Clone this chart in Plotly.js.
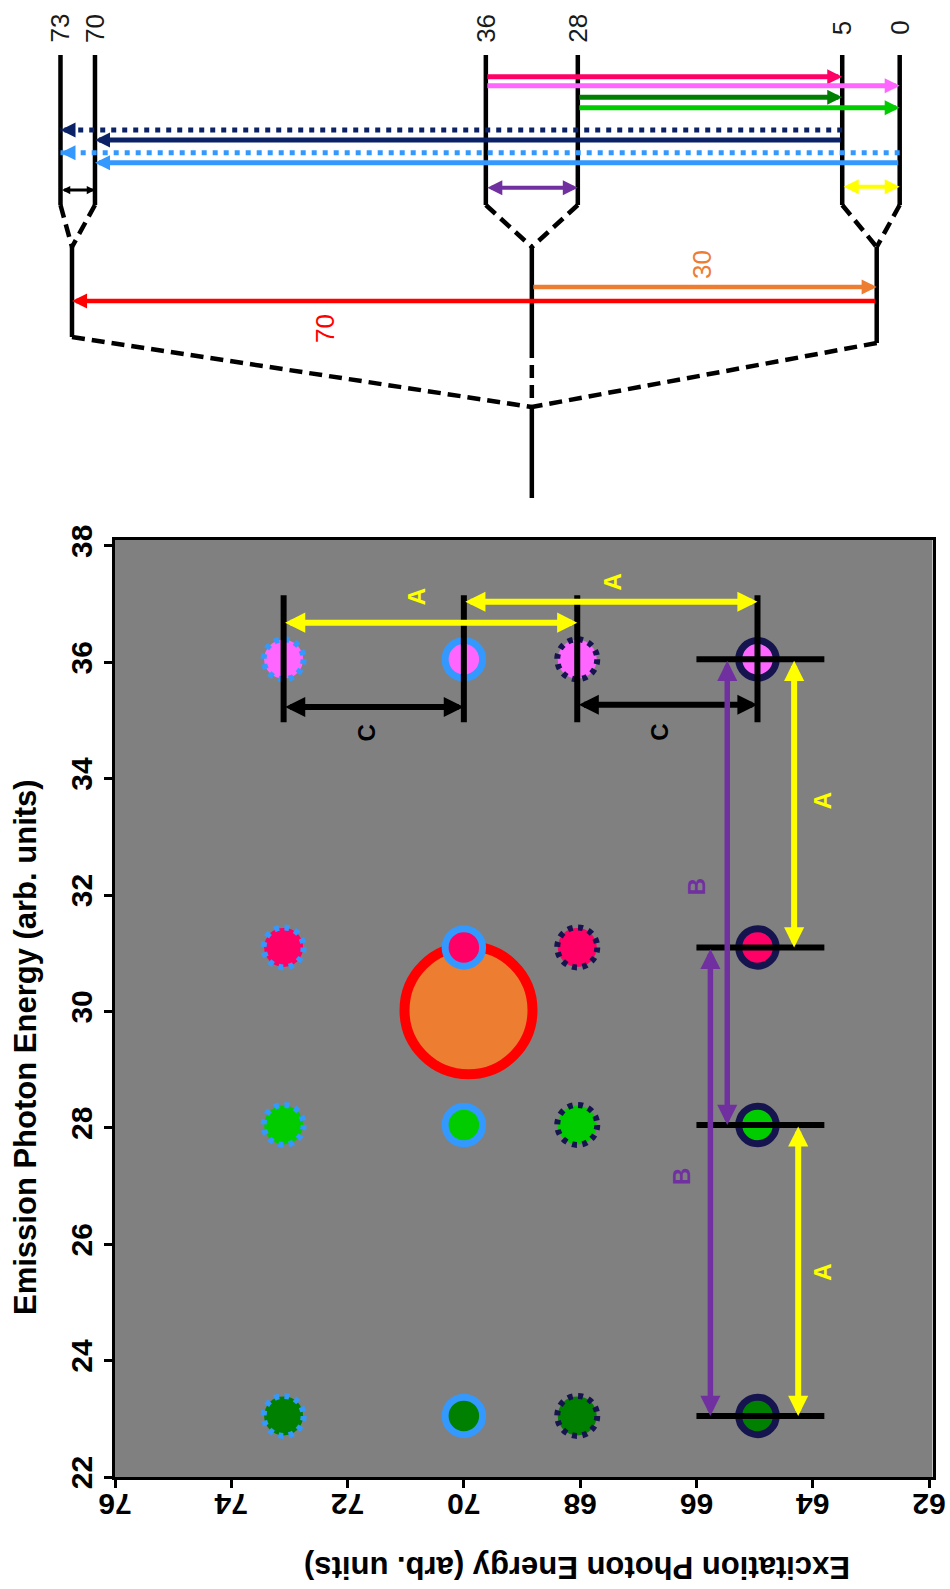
<!DOCTYPE html>
<html>
<head>
<meta charset="utf-8">
<script src="https://cdn.plot.ly/plotly-3.0.1.min.js"></script>
<style>html,body{margin:0;padding:0;background:#ffffff;}</style>
</head>
<body>
<div id="chart" style="width:950px;height:1589px;"></div>
<script>
// ---------- Excitation / emission map ----------
const excitationEnergies = [73.1, 70, 68.05, 64.95];
const excitationOutlineColors = ['#3399FF', '#3399FF', '#16144F', '#16144F'];
const excitationDotted = [true, false, true, false];
const emissionEnergies = [36.05, 31.1, 28.05, 23.05];
const emissionColors = ['#FF66FF', '#FF0066', '#00CC00', '#008000'];
const peakExcitation = [69.92];
const peakEmission = [30.02];
const excitationTicks = [76, 74, 72, 70, 68, 66, 64, 62];
const emissionTicks = [22, 24, 26, 28, 30, 32, 34, 36, 38];

// ---------- Energy level scheme ----------
const levelEnergies = [73, 70, 36, 28, 5, 0];
const levelLabels = ['73', '70', '36', '28', '5', '0'];
const groupEnergies = [72, 32, 2];
const emissionFrom = [36, 36, 28, 28];
const emissionTo = [5, 0, 5, 0];
const emissionLineColors = ['#FF0066', '#FF66FF', '#008000', '#00CC00'];
const excitationFrom = [5, 5, 0, 0];
const excitationTo = [73, 70, 73, 70];
const excitationLineColors = ['#0B2366', '#0B2366', '#3399FF', '#3399FF'];
const excitationLineDotted = [true, false, true, false];
const groupTransitionFrom = [2, 32];
const groupTransitionTo = [72, 2];
const groupTransitionLabels = ['70', '30'];
const groupTransitionColors = ['#FF0000', '#ED7D31'];

const FONT = 'Liberation Sans, Arial, sans-serif';
const W = 950, H = 1589;

const traces = [];
const shapes = [];
const annotations = [];

// map background
shapes.push({type: 'rect', xref: 'x domain', yref: 'y domain', x0: 0, x1: 1, y0: 0, y1: 1,
  fillcolor: '#808080', line: {width: 0}, layer: 'below'});

// broad peak
traces.push({type: 'scatter', mode: 'markers', x: peakExcitation, y: peakEmission,
  xaxis: 'x', yaxis: 'y', hoverinfo: 'skip', showlegend: false,
  marker: {size: 128, color: '#ED7D31', line: {color: '#FF0000', width: 10}}});

// one column of emission peaks per excitation energy
excitationEnergies.forEach((exc, i) => {
  const dotted = excitationDotted[i];
  traces.push({type: 'scatter', mode: 'markers',
    x: emissionEnergies.map(() => exc), y: emissionEnergies,
    xaxis: 'x', yaxis: 'y', hoverinfo: 'skip', showlegend: false,
    marker: {size: dotted ? 39 : 37.5, color: emissionColors,
      line: {color: excitationOutlineColors[i], width: dotted ? 0 : 7}}});
  if (dotted) {
    emissionEnergies.forEach(em => {
      shapes.push({type: 'circle', xref: 'x', yref: 'y', xsizemode: 'pixel', ysizemode: 'pixel',
        xanchor: exc, yanchor: em, x0: -20, x1: 20, y0: -20, y1: 20,
        fillcolor: 'rgba(0,0,0,0)',
        line: {color: excitationOutlineColors[i], width: 6, dash: '5px,5.5px'}});
    });
  }
});

// level bars above each excitation column
excitationEnergies.forEach(exc => {
  shapes.push({type: 'line', xref: 'x', yref: 'y', x0: exc, x1: exc, y0: 34.97, y1: 37.15,
    line: {color: '#000000', width: 6}});
});
// level bars across the lowest-excitation column
emissionEnergies.forEach(em => {
  shapes.push({type: 'line', xref: 'x', yref: 'y', x0: 66.0, x1: 63.8, y0: em, y1: em,
    line: {color: '#000000', width: 6}});
});

function arrow(opt) {
  const a = {
    xref: opt.xref, yref: opt.yref, axref: opt.axref || opt.xref, ayref: opt.ayref || opt.yref,
    x: opt.x, y: opt.y, ax: opt.ax, ay: opt.ay, text: '', showarrow: true,
    arrowcolor: opt.color, arrowwidth: opt.width, arrowhead: 2, arrowsize: opt.size,
    standoff: 0, startstandoff: 0
  };
  if (opt.both) {
    a.arrowside = 'end+start';
    a.startarrowhead = 2;
    a.startarrowsize = opt.size;
  }
  annotations.push(a);
}

function label(opt) {
  annotations.push({xref: opt.xref, yref: opt.yref, x: opt.x, y: opt.y, text: opt.text,
    showarrow: false, textangle: opt.angle === undefined ? -90 : opt.angle,
    xanchor: 'center', yanchor: 'middle',
    font: {family: FONT, size: opt.size, color: opt.color, weight: opt.weight || 'normal'}});
}

// A: horizontal gaps between excitation columns
[[0, 2, 36.68, 70.82, 37.12], [1, 3, 37.04, 67.44, 37.38]].forEach(([i, j, em, lx, ly]) => {
  arrow({xref: 'x', yref: 'y', x: excitationEnergies[j], y: em, ax: excitationEnergies[i], ay: em,
    color: '#FFFF00', width: 6, size: 0.67, both: true});
  label({xref: 'x', yref: 'y', x: lx, y: ly, text: 'A', size: 24, color: '#FFFF00', weight: 'bold'});
});
// C: horizontal gaps
[[0, 1, 35.23, 71.68, 34.78], [2, 3, 35.27, 66.65, 34.80]].forEach(([i, j, em, lx, ly]) => {
  arrow({xref: 'x', yref: 'y', x: excitationEnergies[j], y: em, ax: excitationEnergies[i], ay: em,
    color: '#000000', width: 6, size: 0.67, both: true});
  label({xref: 'x', yref: 'y', x: lx, y: ly, text: 'C', size: 24, color: '#000000', weight: 'bold'});
});
// B: vertical gaps between emission rows
[[0, 2, 65.47, 66.0, 32.14], [1, 3, 65.76, 66.26, 27.16]].forEach(([i, j, exc, lx, ly]) => {
  arrow({xref: 'x', yref: 'y', x: exc, y: emissionEnergies[j], ax: exc, ay: emissionEnergies[i],
    color: '#7030A0', width: 5.5, size: 0.73, both: true});
  label({xref: 'x', yref: 'y', x: lx, y: ly, text: 'B', size: 24, color: '#7030A0', weight: 'bold'});
});
// A: vertical gaps
[[0, 1, 64.32, 63.83, 33.62], [2, 3, 64.25, 63.83, 25.52]].forEach(([i, j, exc, lx, ly]) => {
  arrow({xref: 'x', yref: 'y', x: exc, y: emissionEnergies[j], ax: exc, ay: emissionEnergies[i],
    color: '#FFFF00', width: 6, size: 0.67, both: true});
  label({xref: 'x', yref: 'y', x: lx, y: ly, text: 'A', size: 24, color: '#FFFF00', weight: 'bold'});
});

// ---------- level scheme drawing (y2 is measured downward from the top) ----------
const LEVEL_TOP = 55, LEVEL_BOTTOM = 205, GROUP_TOP = 247;
const groupBottom = [337, 345, 343];
const ROOT_Y = 407, ROOT_BOTTOM = 498;
const DASH = '13px,7px';

function seg(x0, y0, x1, y1, color, width, dash) {
  shapes.push({type: 'line', xref: 'x2', yref: 'y2', x0, x1, y0, y1,
    line: {color, width, dash: dash || 'solid'}});
}

// individual levels and their labels
levelEnergies.forEach((e, k) => {
  seg(e, LEVEL_TOP, e, LEVEL_BOTTOM, '#000000', 4.5);
  label({xref: 'x2', yref: 'y2', x: e, y: 28, text: levelLabels[k], size: 26, color: '#1a1a1a'});
});
// each pair of levels merges into one group level
levelEnergies.forEach((e, k) => {
  const g = groupEnergies[Math.floor(k / 2)];
  seg(e, LEVEL_BOTTOM, g, GROUP_TOP, '#000000', 4.5, DASH);
});
groupEnergies.forEach((g, k) => {
  if (k === 1) {
    seg(g, GROUP_TOP, g, groupBottom[k], '#000000', 4.5);
    seg(g, groupBottom[k], g, ROOT_Y, '#000000', 4.5, DASH);
  } else {
    seg(g, GROUP_TOP, g, groupBottom[k], '#000000', 4.5);
    seg(g, groupBottom[k], groupEnergies[1], ROOT_Y, '#000000', 4.5, DASH);
  }
});
seg(groupEnergies[1], ROOT_Y, groupEnergies[1], ROOT_BOTTOM, '#000000', 4.5);

// emission transitions
const emissionRows = [76.7, 85.7, 97.3, 107.7];
emissionFrom.forEach((f, k) => {
  arrow({xref: 'x2', yref: 'y2', x: emissionTo[k], y: emissionRows[k], ax: f, ay: emissionRows[k],
    color: emissionLineColors[k], width: 5, size: 0.6});
});
// excitation transitions
const excitationRows = [130, 140, 152.7, 162.7];
excitationFrom.forEach((f, k) => {
  const yv = excitationRows[k];
  if (excitationLineDotted[k]) {
    seg(f, yv, excitationTo[k], yv, excitationLineColors[k], 5, '5px,6px');
    annotations.push({xref: 'x2', yref: 'y2', x: excitationTo[k], y: yv, ax: 15, ay: 0,
      text: '', showarrow: true, arrowcolor: excitationLineColors[k], arrowwidth: 5,
      arrowhead: 2, arrowsize: 0.6, standoff: 0});
  } else {
    arrow({xref: 'x2', yref: 'y2', x: excitationTo[k], y: yv, ax: f, ay: yv,
      color: excitationLineColors[k], width: 5, size: 0.6});
  }
});
// splittings inside each pair
arrow({xref: 'x2', yref: 'y2', x: levelEnergies[1], y: 190, ax: levelEnergies[0], ay: 190,
  color: '#000000', width: 3, size: 0.55, both: true});
arrow({xref: 'x2', yref: 'y2', x: levelEnergies[3], y: 187.7, ax: levelEnergies[2], ay: 187.7,
  color: '#7030A0', width: 4, size: 0.75, both: true});
arrow({xref: 'x2', yref: 'y2', x: levelEnergies[5], y: 186.7, ax: levelEnergies[4], ay: 186.7,
  color: '#FFFF00', width: 4, size: 0.75, both: true});

// transitions between group levels
const groupRows = [301, 287];
const groupLabelPos = [[50, 328], [17.2, 264]];
groupTransitionFrom.forEach((f, k) => {
  arrow({xref: 'x2', yref: 'y2', x: groupTransitionTo[k], y: groupRows[k], ax: f, ay: groupRows[k],
    color: groupTransitionColors[k], width: 4.5, size: 0.67});
  label({xref: 'x2', yref: 'y2', x: groupLabelPos[k][0], y: groupLabelPos[k][1],
    text: groupTransitionLabels[k], size: 26, color: groupTransitionColors[k]});
});

// axis titles
annotations.push({xref: 'paper', yref: 'paper', x: 25 / W, y: 1 - 1047 / H,
  text: 'Emission Photon Energy (arb. units)', showarrow: false, textangle: -90,
  xanchor: 'center', yanchor: 'middle',
  font: {family: FONT, size: 31, color: '#000000', weight: 'bold'}});
annotations.push({xref: 'paper', yref: 'paper', x: 577 / W, y: 1 - 1568 / H,
  text: 'Excitation Photon Energy (arb. units)', showarrow: false, textangle: 180,
  xanchor: 'center', yanchor: 'middle',
  font: {family: FONT, size: 31, color: '#000000', weight: 'bold'}});

const tickFont = {family: FONT, size: 30, color: '#000000', weight: 'bold'};

const layout = {
  width: W, height: H,
  margin: {l: 0, r: 0, t: 0, b: 0, pad: 0},
  paper_bgcolor: '#ffffff', plot_bgcolor: 'rgba(0,0,0,0)',
  showlegend: false,
  font: {family: FONT},
  xaxis: {domain: [115 / W, 932.5 / W], range: [76, 61.94], anchor: 'y',
    tickvals: excitationTicks, ticktext: excitationTicks.map(String), tickangle: 180,
    tickfont: tickFont, ticks: 'outside', ticklen: 8, tickwidth: 3, tickcolor: '#000000',
    showline: true, mirror: true, linewidth: 3, linecolor: '#000000',
    showgrid: false, zeroline: false},
  yaxis: {domain: [1 - 1477 / H, 1 - 540 / H], range: [22, 38.1], anchor: 'x',
    tickvals: emissionTicks, ticktext: emissionTicks.map(String), tickangle: -90,
    tickfont: tickFont, ticks: 'outside', ticklen: 8, tickwidth: 3, tickcolor: '#000000',
    showline: true, mirror: true, linewidth: 3, linecolor: '#000000',
    showgrid: false, zeroline: false},
  xaxis2: {domain: [0, 1], range: [899.7 / 11.496, (899.7 - W) / 11.496], anchor: 'y2',
    visible: false, showgrid: false, zeroline: false},
  yaxis2: {domain: [1 - 520 / H, 1], range: [520, 0], anchor: 'x2',
    visible: false, showgrid: false, zeroline: false},
  shapes: shapes,
  annotations: annotations
};

Plotly.newPlot('chart', traces, layout, {staticPlot: true, displayModeBar: false});
</script>
</body>
</html>
